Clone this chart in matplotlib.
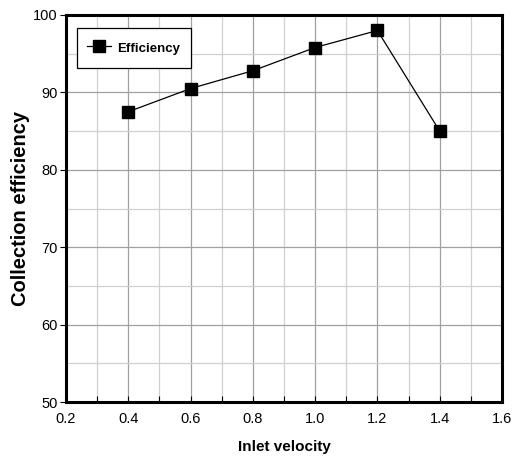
import matplotlib
matplotlib.use("Agg")
import matplotlib.pyplot as plt
from matplotlib.ticker import MultipleLocator

plt.rcParams['font.family'] = ['Liberation Sans', 'DejaVu Sans']

velocity = [0.4, 0.6, 0.8, 1.0, 1.2, 1.4]
efficiency = [87.5, 90.5, 92.8, 95.8, 98.0, 85.0]
xticks = [0.2, 0.4, 0.6, 0.8, 1.0, 1.2, 1.4, 1.6]
xticklabels = ['0.2', '0.4', '0.6', '0.8', '1.0', '1.2', '1.4', '1.6']
yticks = [50, 60, 70, 80, 90, 100]

fig = plt.figure(figsize=(5.16, 4.67), dpi=100)
ax = fig.add_axes([66/516, 65/467, 436/516, 387/467])

ax.plot(velocity, efficiency, color='black', lw=0.9, marker='s', markersize=8.5,
        markerfacecolor='black', markeredgecolor='black', label='Efficiency', zorder=3)

ax.set_xlim(0.2, 1.6)
ax.set_ylim(50, 100)
ax.set_xticks(xticks)
ax.set_xticklabels(xticklabels)
ax.set_yticks(yticks)
ax.xaxis.set_minor_locator(MultipleLocator(0.1))
ax.yaxis.set_minor_locator(MultipleLocator(5))

ax.grid(which='major', color='#a0a0a0', lw=0.9)
ax.grid(which='minor', color='#d0d0d0', lw=0.9)
ax.set_axisbelow(True)

for s in ax.spines.values():
    s.set_linewidth(2.2)
    s.set_color('black')

ax.tick_params(which='both', direction='out', length=4, width=0.8, labelsize=10.5, pad=2)
ax.tick_params(axis='y', which='minor', length=0)
ax.tick_params(axis='x', which='both', direction='in', pad=7)

ax.set_xlabel('Inlet velocity', fontsize=11, fontweight='bold', labelpad=10)
ax.set_ylabel('Collection efficiency', fontsize=14.5, fontweight='bold', labelpad=2)

leg = ax.legend(loc='upper left', bbox_to_anchor=(0.025, 0.966), borderaxespad=0,
                fancybox=False, edgecolor='black', framealpha=1,
                handlelength=1.75, handleheight=1.8, handletextpad=0.5, borderpad=0.8,
                prop={'weight': 'bold', 'size': 9.5})
leg.get_frame().set_linewidth(0.9)

fig.savefig('out.png', dpi=100)
